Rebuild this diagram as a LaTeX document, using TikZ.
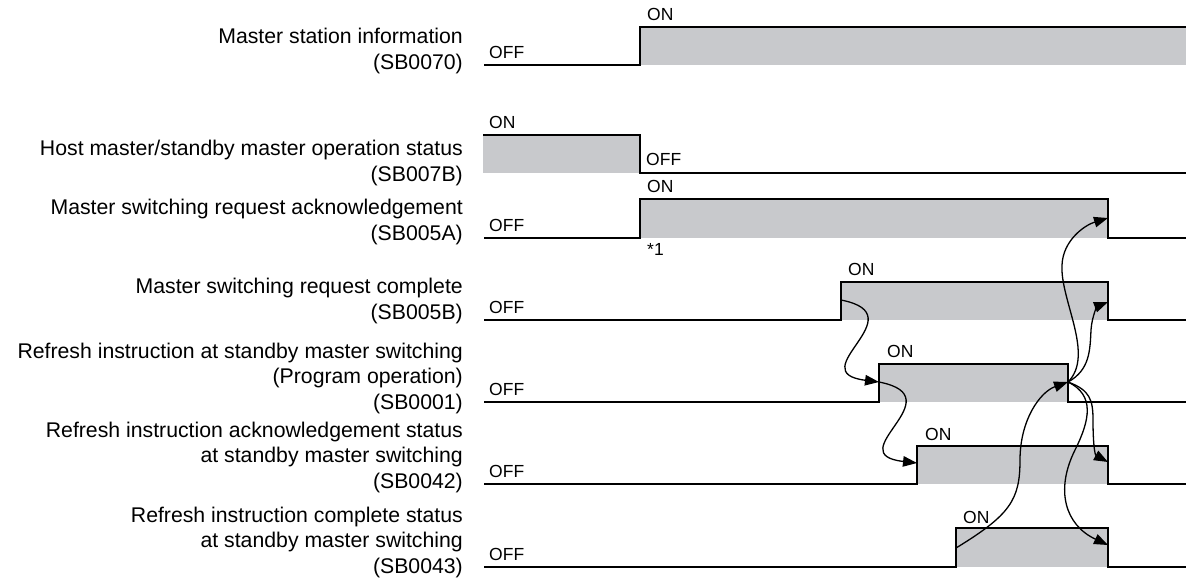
\documentclass[tikz,border=0pt]{standalone}
\usepackage{fontspec}
\setmainfont{Liberation Sans}
\usetikzlibrary{arrows.meta}
\definecolor{sigfill}{RGB}{200,201,204}
\begin{document}
\begin{tikzpicture}[x=1pt,y=-1pt,
  wave/.style={line width=2.2pt, line join=miter},
  hi/.style={fill=sigfill},
  lbl/.style={anchor=base east, inner sep=0pt, font=\fontsize{21.25}{25.3}\selectfont},
  st/.style={anchor=base west, inner sep=0pt, font=\fontsize{17.5}{20}\selectfont},
  cause/.style={line width=1.3pt, -{Triangle[length=14pt,width=10.5pt]}}
]
\useasboundingbox (0,0) rectangle (1186,581);

% ---- signal labels
\node[lbl] (t1) at (463,69) {\begin{tabular}[b]{@{}r@{}}Master station information\\(SB0070)\end{tabular}};
\node[lbl] (t2) at (463,181) {\begin{tabular}[b]{@{}r@{}}Host master/standby master operation status\\(SB007B)\end{tabular}};
\node[lbl] (t3) at (463,240) {\begin{tabular}[b]{@{}r@{}}Master switching request acknowledgement\\(SB005A)\end{tabular}};
\node[lbl] (t4) at (463,319) {\begin{tabular}[b]{@{}r@{}}Master switching request complete\\(SB005B)\end{tabular}};
\node[lbl] (t5) at (463,409) {\begin{tabular}[b]{@{}r@{}}Refresh instruction at standby master switching\hspace{7pt}\\(Program operation)\\(SB0001)\end{tabular}};
\node[lbl] (t6) at (463,488) {\begin{tabular}[b]{@{}r@{}}Refresh instruction acknowledgement status\\at standby master switching\\(SB0042)\end{tabular}};
\node[lbl] (t7) at (463,573) {\begin{tabular}[b]{@{}r@{}}Refresh instruction complete status\\at standby master switching\\(SB0043)\end{tabular}};

% ---- row 1 (SB0070)
\fill[hi] (640,65) rectangle (1186,27);
\draw[wave] (484,65) -- (640,65) -- (640,27) -- (1186,27);
\node[st] (off1) at (489,58) {OFF};
\node[st] (on1) at (647,20) {ON};

% ---- row 2 (SB007B)
\fill[hi] (483,173) rectangle (640,135);
\draw[wave] (483,135) -- (640,135) -- (640,173) -- (1186,173);
\node[st] (on2) at (489,128) {ON};
\node[st] (off2) at (646,165) {OFF};

% ---- row 3 (SB005A)
\fill[hi] (640,238) rectangle (1108,199);
\draw[wave] (484,238) -- (640,238) -- (640,199) -- (1108,199) -- (1108,238) -- (1186,238);
\node[st] (off3) at (489,231) {OFF};
\node[st] (on3) at (647,192) {ON};
\node[st] (n1) at (647,255) {*1};

% ---- row 4 (SB005B)
\fill[hi] (841,320) rectangle (1108,282);
\draw[wave] (484,320) -- (841,320) -- (841,282) -- (1108,282) -- (1108,320) -- (1186,320);
\node[st] (off4) at (489,313) {OFF};
\node[st] (on4) at (848,275) {ON};

% ---- row 5 (SB0001)
\fill[hi] (879,402) rectangle (1068,364);
\draw[wave] (484,402) -- (879,402) -- (879,364) -- (1068,364) -- (1068,402) -- (1186,402);
\node[st] (off5) at (489,395) {OFF};
\node[st] (on5) at (887,357) {ON};

% ---- row 6 (SB0042)
\fill[hi] (917,484) rectangle (1108,446);
\draw[wave] (484,484) -- (917,484) -- (917,446) -- (1108,446) -- (1108,484) -- (1186,484);
\node[st] (off6) at (489,477) {OFF};
\node[st] (on6) at (925,440) {ON};

% ---- row 7 (SB0043)
\fill[hi] (956,567) rectangle (1108,528);
\draw[wave] (484,567) -- (956,567) -- (956,528) -- (1108,528) -- (1108,567) -- (1186,567);
\node[st] (off7) at (489,560) {OFF};
\node[st] (on7) at (963,523) {ON};

% ---- edge points
\coordinate (r4r) at (841,300);
\coordinate (r5r) at (879,382);
\coordinate (r6r) at (917,463);
\coordinate (r7r) at (956,548);
\coordinate (r5f) at (1068,382);
\coordinate (r3f) at (1108,218);
\coordinate (r4f) at (1108,302);
\coordinate (r6f) at (1108,462);
\coordinate (r7f) at (1108,545);

% ---- causal arrows
\draw[cause] (r4r) .. controls (918,315) and (800,372) .. (r5r);
\draw[cause] (r5r) .. controls (956,397) and (838,454) .. (r6r);
\draw[cause] (r7r) .. controls (1010,515) and (1020,500) .. (1020,460) .. controls (1020,420) and (1040,392) .. (r5f);
\draw[cause] (r5f) .. controls (1095,355) and (1060,300) .. (1062,265) .. controls (1063,240) and (1085,225) .. (r3f);
\draw[cause] (r5f) .. controls (1090,370) and (1090,350) .. (1091,330) .. controls (1092,315) and (1098,306) .. (r4f);
\draw[cause] (r5f) .. controls (1090,390) and (1093,400) .. (1093,420) .. controls (1093,445) and (1095,455) .. (r6f);
\draw[cause] (r5f) .. controls (1095,395) and (1090,420) .. (1075,450) .. controls (1055,490) and (1065,525) .. (r7f);
\end{tikzpicture}
\end{document}
